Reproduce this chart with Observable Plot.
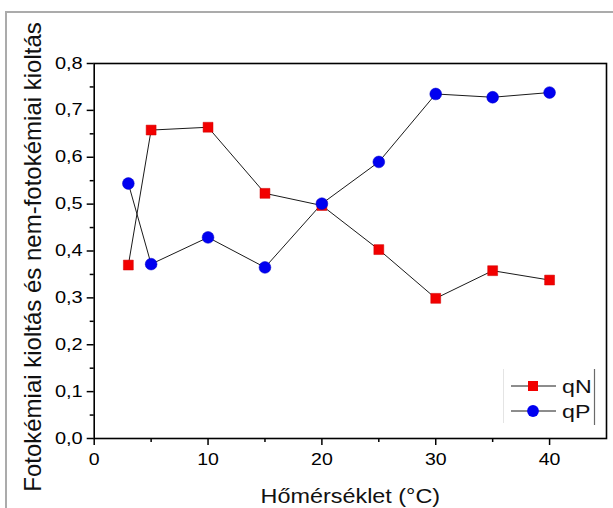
<!DOCTYPE html>
<html><head><meta charset="utf-8">
<script src="https://cdn.jsdelivr.net/npm/d3@7"></script>
<script src="https://cdn.jsdelivr.net/npm/@observablehq/plot@0.6"></script>
<style>
body{margin:0;background:#fff;}
#wrap{position:relative;width:613px;height:508px;overflow:hidden;background:#fff;font-family:"Liberation Sans",Arial,sans-serif;}
#border{position:absolute;left:5px;top:11px;width:800px;height:800px;border-left:2px solid #ababab;border-top:2px solid #ababab;}
#chart{position:absolute;left:0;top:0;}
#legend{position:absolute;left:0;top:0;pointer-events:none;}
</style></head>
<body><div id="wrap"><div id="border"></div><div id="chart"></div><svg id="legend" width="613" height="508"></svg></div>
<script>
const temps = [3, 5, 10, 15, 20, 25, 30, 35, 40];
const qN = [0.370, 0.658, 0.664, 0.523, 0.497, 0.403, 0.299, 0.358, 0.338];
const qP = [0.544, 0.372, 0.429, 0.365, 0.501, 0.590, 0.735, 0.728, 0.738];
const seriesNames = ["qN", "qP"];
const xMajorTicks = [0, 10, 20, 30, 40];
const xMinorTicks = [5, 15, 25, 35];
const yMajorTicks = [0, 0.1, 0.2, 0.3, 0.4, 0.5, 0.6, 0.7, 0.8];
const yMinorTicks = [0.05, 0.15, 0.25, 0.35, 0.45, 0.55, 0.65, 0.75];
const xLabel = "Hőmérséklet (°C)";
const yLabel = "Fotokémiai kioltás és nem-fotokémiai kioltás";

const colors = {qN: "#f20000", qP: "#0000f0"};
const symbols = {qN: "square", qP: "circle"};

const rows = [];
temps.forEach((t, i) => rows.push({t, v: qN[i], s: "qN"}));
temps.forEach((t, i) => rows.push({t, v: qP[i], s: "qP"}));

const fmt = d => d.toFixed(1).replace(".", ",");
const font = "Liberation Sans, Arial, sans-serif";

const chart = Plot.plot({
  width: 613, height: 508,
  marginLeft: 93.7, marginRight: 7, marginTop: 63, marginBottom: 70,
  style: {fontFamily: font, fontSize: "16px", background: "transparent", color: "black", overflow: "visible"},
  x: {domain: [0, 45]},
  y: {domain: [0, 0.8]},
  marks: [
    Plot.axisX(xMajorTicks, {tickSize: 7, tickPadding: 8, tickFormat: d => String(d), fontSize: 16, label: null, strokeWidth: 1.5}),
    Plot.axisX(xMinorTicks, {tickSize: 4, tickFormat: () => "", label: null, strokeWidth: 1.5}),
    Plot.axisY(yMajorTicks, {tickSize: 7, tickPadding: 4.5, tickFormat: fmt, fontSize: 16, label: null, strokeWidth: 1.5}),
    Plot.axisY(yMinorTicks, {tickSize: 4, tickFormat: () => "", label: null, strokeWidth: 1.5}),
    Plot.frame({stroke: "black", strokeWidth: 1.6}),
    Plot.line(rows, {x: "t", y: "v", z: "s", stroke: "#1a1a1a", strokeWidth: 1}),
    Plot.dot(rows.filter(d => d.s === "qN"), {x: "t", y: "v", symbol: "square", r: 5.6, fill: colors.qN, stroke: "#d00000", strokeWidth: 0.5}),
    Plot.dot(rows.filter(d => d.s === "qP"), {x: "t", y: "v", symbol: "circle", r: 5.9, fill: colors.qP, stroke: "#0000c8", strokeWidth: 0.5}),
    Plot.text([xLabel], {text: d => d, frameAnchor: "bottom", textAnchor: "middle", dy: 64, lineAnchor: "bottom", fontSize: 20, fill: "#111"}),
    Plot.text([yLabel], {text: d => d, frameAnchor: "left", textAnchor: "middle", dx: -53.2, dy: 6, rotate: -90, lineAnchor: "bottom", fontSize: 24, fill: "#111"})
  ]
});
document.getElementById("chart").appendChild(chart);

function stretch(el, s) {
  const t = el.getAttribute("transform") || "";
  const x = parseFloat(el.getAttribute("x")) || 0;
  el.setAttribute("transform", `${t} translate(${x},0) scale(${s},1) translate(${-x},0)`);
}
const svg = d3.select(chart);
svg.selectAll('g[aria-label="x-axis tick label"] text').each(function() { stretch(this, 1.22); });
svg.selectAll('g[aria-label="y-axis tick label"] text').each(function() { stretch(this, 1.25); });
svg.selectAll("text").filter(function() { return this.textContent === xLabel; }).each(function() { stretch(this, 1.17); });

// legend
const lg = d3.select("#legend");
lg.append("line").attr("x1", 503.5).attr("x2", 503.5).attr("y1", 369).attr("y2", 423).attr("stroke", "#e4e4e4").attr("stroke-width", 1);
lg.append("line").attr("x1", 594.5).attr("x2", 594.5).attr("y1", 369).attr("y2", 425).attr("stroke", "#6a6a6a").attr("stroke-width", 1.2);
seriesNames.forEach((name, i) => {
  const y = 386 + i * 25;
  lg.append("line").attr("x1", 511).attr("x2", 556).attr("y1", y).attr("y2", y).attr("stroke", "#1a1a1a").attr("stroke-width", 1);
  if (symbols[name] === "square") {
    lg.append("rect").attr("x", 533 - 5).attr("y", y - 5).attr("width", 10).attr("height", 10).attr("fill", colors[name]);
  } else {
    lg.append("circle").attr("cx", 533).attr("cy", y).attr("r", 5.9).attr("fill", colors[name]);
  }
  lg.append("text").attr("x", 562).attr("y", y + 7.5).attr("font-family", font).attr("font-size", 19).attr("fill", "#111")
    .attr("transform", `translate(562,0) scale(1.22,1) translate(-562,0)`).text(name);
});
</script>
</body></html>
